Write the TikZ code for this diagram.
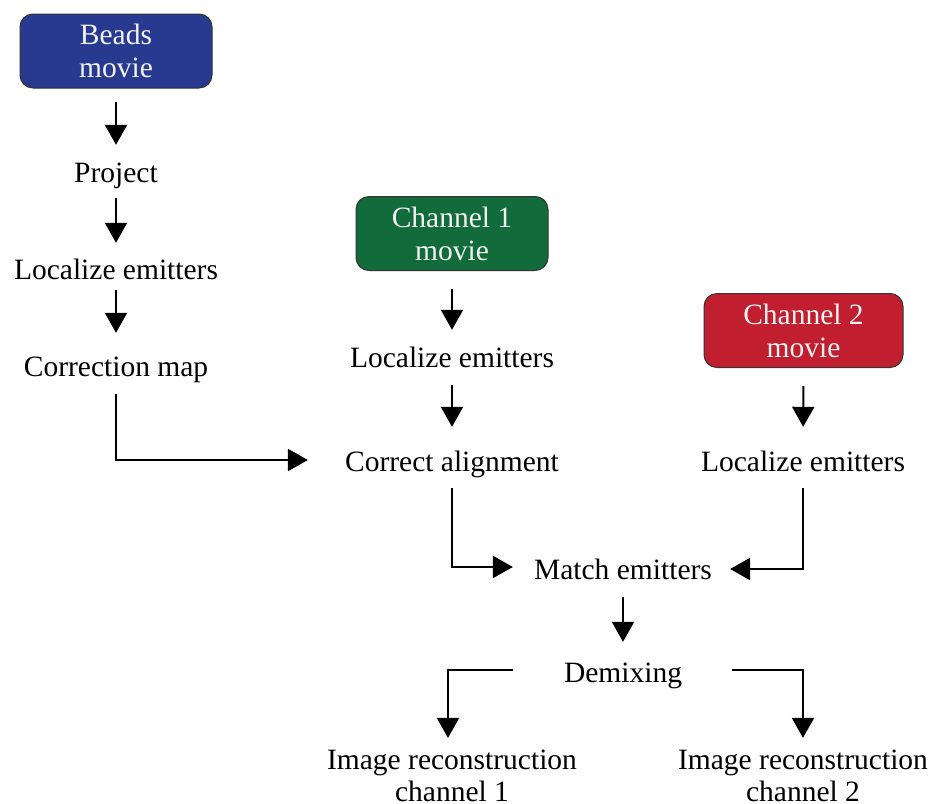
\documentclass[tikz,border=0pt]{standalone}
\usepackage{fontspec}
\setmainfont{Liberation Serif}
\usetikzlibrary{arrows.meta}
\definecolor{beadblue}{HTML}{283A8F}
\definecolor{chgreen}{HTML}{116B3A}
\definecolor{chred}{HTML}{C11F2F}
\definecolor{boxtext}{HTML}{F2F2F2}
\tikzset{
  txt/.style={inner sep=0pt, text height=23pt, text depth=3pt, font=\fontsize{29.5}{32}\selectfont},
  moviebox/.style={draw=black!80, line width=1pt, rounded corners=13pt, minimum width=#1, minimum height=74pt,
     inner sep=0pt, align=center, text=boxtext, font=\fontsize{29.5}{33}\selectfont},
  arr/.style={line width=2pt, -{Triangle[length=20pt,width=22pt]}},
  twoline/.style={inner sep=0pt, align=center, font=\fontsize{29.5}{32}\selectfont}
}
\begin{document}
\begin{tikzpicture}[x=1pt,y=-1pt]
\useasboundingbox (0,0) rectangle (934,803);
\node[moviebox=192pt, fill=beadblue] (beads) at (116,51) {Beads\\movie};
\node[txt] (proj) at (116,172) {Project};
\node[txt] (locL) at (116,269) {Localize emitters};
\node[txt] (corr) at (116,366) {Correction map};
\node[moviebox=192pt, fill=chgreen] (ch1) at (452,233.5) {Channel 1\\movie};
\node[txt] (locM) at (452,357) {Localize emitters};
\node[txt] (ca) at (452,461) {Correct alignment};
\node[moviebox=199pt, fill=chred] (ch2) at (803.5,330.5) {Channel 2\\movie};
\node[txt] (locR) at (803,461) {Localize emitters};
\node[txt] (match) at (623,569) {Match emitters};
\node[txt] (demix) at (623,672) {Demixing};
\node[twoline] (ir1) at (452,776) {Image reconstruction\\channel 1};
\node[twoline] (ir2) at (803,776) {Image reconstruction\\channel 2};

\draw[arr, shorten <=13pt, shorten >=14pt] (beads) -- (proj);
\draw[arr, shorten <=13pt, shorten >=13pt] (proj) -- (locL);
\draw[arr, shorten <=8pt, shorten >=20pt] (locL) -- (corr);
\draw[arr, shorten <=15pt, shorten >=37pt] (corr.south) |- ([yshift=1pt]ca.west);
\draw[arr, shorten <=18pt, shorten >=14pt] (ch1) -- (locM);
\draw[arr, shorten <=15pt, shorten >=21pt] (locM) -- (ca);
\draw[arr, shorten <=18pt, shorten >=21pt] (ch2.south) -- (locR.north);
\draw[arr, shorten <=14pt, shorten >=21pt] (ca.south) |- ([yshift=2pt]match.west);
\draw[arr, shorten <=14pt, shorten >=18pt] (locR.south) |- (match.east);
\draw[arr, shorten <=15pt, shorten >=17pt] (match) -- (demix);
\draw[arr, shorten <=51pt, shorten >=12pt] ([yshift=2pt]demix.west) -| ([xshift=-4pt]ir1.north);
\draw[arr, shorten <=50pt, shorten >=12pt] ([yshift=2pt]demix.east) -| (ir2.north);
\end{tikzpicture}
\end{document}
